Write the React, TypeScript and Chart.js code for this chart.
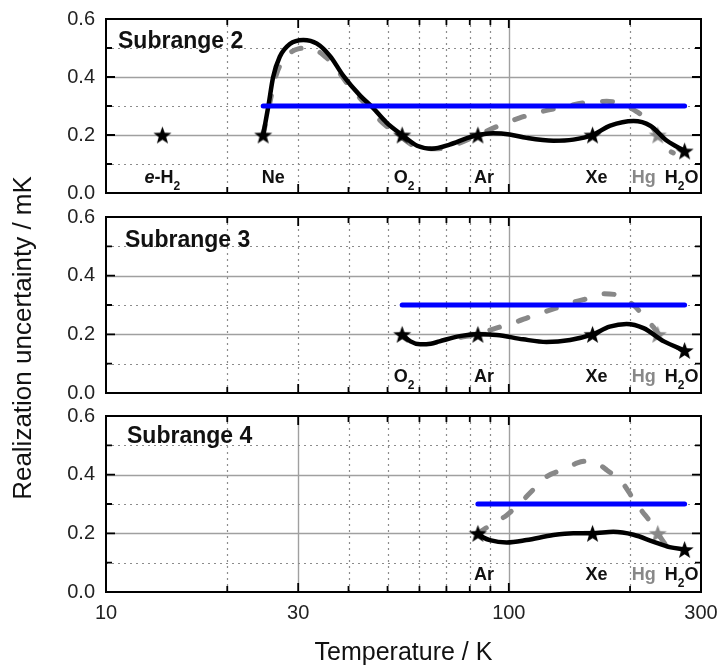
import React, { useEffect, useRef } from 'react';
import { Chart, registerables } from 'chart.js';

Chart.register(...registerables);

// ---------- data ----------
const fixedPointNames = ['e-H2', 'Ne', 'O2', 'Ar', 'Xe', 'Hg', 'H2O'];
const fixedPointTemps = [13.8033, 24.5561, 54.3584, 83.8058, 161.4056, 234.3156, 273.16];
const fixedPointUnc = [0.2, 0.2, 0.2, 0.2, 0.2, 0.2, 0.145];
const targetUnc = 0.3;

const xTickValues = [10, 30, 100, 300];
const xGridValues = [20, 30, 40, 50, 60, 70, 80, 90, 100, 200];
const yTickValues = [0, 0.2, 0.4, 0.6];
const yGridValues = [0.1, 0.2, 0.3, 0.4, 0.5];

// Subrange 2
const sub2SolidT = [24.56, 25.3, 26.0, 27.0, 28.6, 30.9, 33.4, 36.0, 38.8, 42.8, 45.7, 49.7, 54.36, 59.2, 64.4, 71.3, 78.7, 83.81, 91.4, 100.5, 110.6, 129, 144.6, 161.41, 178.5, 204, 224.5, 247, 273.16];
const sub2SolidV = [0.2, 0.3, 0.4, 0.47, 0.514, 0.528, 0.515, 0.472, 0.405, 0.335, 0.298, 0.243, 0.2, 0.163, 0.153, 0.167, 0.189, 0.2, 0.206, 0.202, 0.19, 0.18, 0.184, 0.2, 0.232, 0.248, 0.232, 0.18, 0.145];
const sub2DashT = [24.56, 25.5, 26.5, 28.0, 30.0, 32.0, 34.5, 37.0, 40.0, 43.5, 47.0, 50.5, 54.36, 58.0, 62.0, 67.0, 74.0, 83.81, 93.0, 106, 120, 135, 155, 175, 190, 208, 218, 234.32, 248, 256];
const sub2DashV = [0.2, 0.31, 0.41, 0.47, 0.497, 0.5, 0.478, 0.435, 0.372, 0.315, 0.262, 0.222, 0.19, 0.163, 0.153, 0.153, 0.168, 0.2, 0.228, 0.258, 0.28, 0.295, 0.312, 0.316, 0.308, 0.28, 0.258, 0.2, 0.15, 0.138];

// Subrange 3
const sub3SolidT = [54.36, 57.0, 60.2, 64.0, 67.3, 75.5, 83.81, 93.2, 108.5, 124, 142, 161.41, 178, 196, 216, 242.7, 273.16];
const sub3SolidV = [0.2, 0.176, 0.166, 0.168, 0.176, 0.194, 0.2, 0.198, 0.183, 0.174, 0.181, 0.2, 0.226, 0.235, 0.221, 0.176, 0.145];
const sub3DashT = [76, 83.81, 89.7, 95, 104, 113, 123, 134, 146, 159, 172, 186, 206, 216, 228, 238, 245, 252];
const sub3DashV = [0.19, 0.2, 0.214, 0.225, 0.242, 0.26, 0.277, 0.294, 0.311, 0.324, 0.338, 0.334, 0.294, 0.262, 0.226, 0.192, 0.172, 0.153];

// Subrange 4
const sub4SolidT = [83.81, 86.5, 89.7, 98.8, 110.6, 129, 144.6, 161.41, 181.7, 204, 228, 250.6, 273.16];
const sub4SolidV = [0.2, 0.186, 0.177, 0.169, 0.177, 0.194, 0.2, 0.2, 0.205, 0.195, 0.172, 0.153, 0.145];
const sub4DashT = [83.81, 90, 98.8, 105.5, 116, 124, 138, 148, 156, 166, 175, 192, 202, 213, 226, 234.32, 243, 251];
const sub4DashV = [0.2, 0.228, 0.262, 0.297, 0.354, 0.393, 0.42, 0.44, 0.446, 0.438, 0.416, 0.37, 0.325, 0.28, 0.234, 0.2, 0.168, 0.143];

const panelTitles = ['Subrange 2', 'Subrange 3', 'Subrange 4'];

// ---------- layout / style ----------
const W = 721;
const H = 666;
const FONT = "'Liberation Sans', Arial, Helvetica, sans-serif";
const GRAY = '#888888';

type Panel = {
  title: string;
  solidT: number[]; solidV: number[];
  dashT: number[]; dashV: number[];
  starStart: number; blueStart: number;
  solidGridX: number[];
  top: number; bottom: number;
  titleX: number; titleDy: number; labelDy: number;
  showX: boolean;
};

const panels: Panel[] = [
  { title: panelTitles[0], solidT: sub2SolidT, solidV: sub2SolidV, dashT: sub2DashT, dashV: sub2DashV, starStart: 0, blueStart: 1, solidGridX: [100], top: 19, bottom: 193, titleX: 118, titleDy: 29, labelDy: 10, showX: false },
  { title: panelTitles[1], solidT: sub3SolidT, solidV: sub3SolidV, dashT: sub3DashT, dashV: sub3DashV, starStart: 2, blueStart: 2, solidGridX: [100], top: 217, bottom: 393, titleX: 125, titleDy: 30, labelDy: 11, showX: false },
  { title: panelTitles[2], solidT: sub4SolidT, solidV: sub4SolidV, dashT: sub4DashT, dashV: sub4DashV, starStart: 3, blueStart: 3, solidGridX: [30, 100], top: 416, bottom: 592, titleX: 127, titleDy: 27, labelDy: 12, showX: true },
];

// label pieces: [text, kind]
const labelParts: Record<string, [string, string][]> = {
  'e-H2': [['e', 'italic'], ['-H', 'bold'], ['2', 'sub']],
  'Ne': [['Ne', 'bold']],
  'O2': [['O', 'bold'], ['2', 'sub']],
  'Ar': [['Ar', 'bold']],
  'Xe': [['Xe', 'bold']],
  'Hg': [['Hg', 'bold']],
  'H2O': [['H', 'bold'], ['2', 'sub'], ['O', 'bold']],
};
const labelDx = [0, 10, 2, 6, 4, -14, -3];

function makeStar(color: string, R = 9.5, r = 3.9): HTMLCanvasElement {
  const c = document.createElement('canvas');
  const s = Math.ceil(2 * R + 2);
  c.width = s;
  c.height = s;
  const ctx = c.getContext('2d')!;
  ctx.translate(s / 2, s / 2 + R * 0.095);
  ctx.beginPath();
  for (let i = 0; i < 10; i++) {
    const ang = -Math.PI / 2 + (i * Math.PI) / 5;
    const rad = i % 2 === 0 ? R : r;
    const x = Math.cos(ang) * rad;
    const y = Math.sin(ang) * rad;
    if (i === 0) ctx.moveTo(x, y);
    else ctx.lineTo(x, y);
  }
  ctx.closePath();
  ctx.fillStyle = color;
  ctx.fill();
  return c;
}

function partFont(kind: string) {
  if (kind === 'sub') return `bold 12px ${FONT}`;
  if (kind === 'italic') return `italic bold 18px ${FONT}`;
  return `bold 18px ${FONT}`;
}

function decorPlugin(p: Panel) {
  return {
    id: 'panelDecor',
    beforeDatasetsDraw(chart: any) {
      const { ctx, chartArea: a, scales } = chart;
      const xs = scales.x;
      const ys = scales.y;
      ctx.save();
      for (const v of xGridValues) {
        const px = Math.round(xs.getPixelForValue(v)) + 0.5;
        const solid = p.solidGridX.includes(v);
        ctx.beginPath();
        ctx.setLineDash(solid ? [] : [2, 4]);
        ctx.strokeStyle = solid ? '#a0a0a0' : '#8c8c8c';
        ctx.lineWidth = solid ? 1.4 : 1.2;
        ctx.moveTo(px, a.top);
        ctx.lineTo(px, a.bottom);
        ctx.stroke();
      }
      for (const v of yGridValues) {
        const py = Math.round(ys.getPixelForValue(v)) + 0.5;
        const solid = yTickValues.includes(v);
        ctx.beginPath();
        ctx.setLineDash(solid ? [] : [2, 4]);
        ctx.strokeStyle = solid ? '#a0a0a0' : '#8c8c8c';
        ctx.lineWidth = solid ? 1.4 : 1.2;
        ctx.moveTo(a.left, py);
        ctx.lineTo(a.right, py);
        ctx.stroke();
      }
      ctx.restore();
    },
    afterDatasetsDraw(chart: any) {
      const { ctx, chartArea: a, scales } = chart;
      const xs = scales.x;
      const ys = scales.y;
      ctx.save();
      ctx.setLineDash([]);
      ctx.strokeStyle = '#000';
      ctx.lineWidth = 1.8;
      // tick marks
      for (const v of xGridValues) {
        const px = xs.getPixelForValue(v);
        const len = xTickValues.includes(v) ? 9 : 6;
        ctx.beginPath();
        ctx.moveTo(px, a.top);
        ctx.lineTo(px, a.top + len);
        ctx.moveTo(px, a.bottom);
        ctx.lineTo(px, a.bottom - len);
        ctx.stroke();
      }
      for (const v of yGridValues) {
        const py = ys.getPixelForValue(v);
        const len = yTickValues.includes(v) ? 9 : 6;
        ctx.beginPath();
        ctx.moveTo(a.left, py);
        ctx.lineTo(a.left + len, py);
        ctx.moveTo(a.right, py);
        ctx.lineTo(a.right - len, py);
        ctx.stroke();
      }
      // frame
      ctx.lineWidth = 2;
      ctx.strokeRect(a.left, a.top, a.right - a.left, a.bottom - a.top);

      // fixed-point labels
      ctx.textBaseline = 'alphabetic';
      ctx.textAlign = 'left';
      const base = a.bottom - p.labelDy;
      for (let i = p.starStart; i < fixedPointNames.length; i++) {
        const name = fixedPointNames[i];
        const parts = labelParts[name];
        let total = 0;
        for (const [t, k] of parts) {
          ctx.font = partFont(k);
          total += ctx.measureText(t).width;
        }
        let x = xs.getPixelForValue(fixedPointTemps[i]) + labelDx[i] - total / 2;
        ctx.fillStyle = name === 'Hg' ? GRAY : '#111';
        for (const [t, k] of parts) {
          ctx.font = partFont(k);
          ctx.fillText(t, x, k === 'sub' ? base + 7 : base);
          x += ctx.measureText(t).width;
        }
      }
      // subrange title
      ctx.font = `bold 23px ${FONT}`;
      ctx.fillStyle = '#111';
      ctx.fillText(p.title, p.titleX, a.top + p.titleDy);
      ctx.restore();
    },
    afterDraw(chart: any) {
      if (!p.showX) return;
      const { ctx, chartArea: a } = chart;
      ctx.save();
      ctx.fillStyle = '#111';
      ctx.textBaseline = 'alphabetic';
      ctx.textAlign = 'center';
      ctx.font = `25px ${FONT}`;
      ctx.fillText('Temperature / K', (a.left + a.right) / 2, 660);
      ctx.translate(31, 338);
      ctx.rotate(-Math.PI / 2);
      ctx.font = `26px ${FONT}`;
      ctx.fillText('Realization uncertainty / mK', 0, 0);
      ctx.restore();
    },
  };
}

function zip(t: number[], v: number[]) {
  return t.map((x, i) => ({ x, y: v[i] }));
}

function buildConfig(p: Panel, starBlack: HTMLCanvasElement, starGray: HTMLCanvasElement): any {
  const hgIdx = fixedPointNames.indexOf('Hg');
  const lastIdx = fixedPointNames.length - 1;
  const blackStars = fixedPointTemps
    .map((t, i) => ({ x: t, y: fixedPointUnc[i], i }))
    .filter((d) => d.i >= p.starStart && d.i !== hgIdx)
    .map((d) => ({ x: d.x, y: d.y }));
  const grayStars = [{ x: fixedPointTemps[hgIdx], y: fixedPointUnc[hgIdx] }];
  const blue = [
    { x: fixedPointTemps[p.blueStart], y: targetUnc },
    { x: fixedPointTemps[lastIdx], y: targetUnc },
  ];
  return {
    type: 'line',
    data: {
      datasets: [
        { label: 'fixed points', data: blackStars, showLine: false, pointStyle: starBlack, pointRadius: 8, order: 0 },
        { label: 'target', data: blue, borderColor: '#0000ff', borderWidth: 5, borderCapStyle: 'round', pointRadius: 0, order: 1 },
        { label: 'solid', data: zip(p.solidT, p.solidV), borderColor: '#000', borderWidth: 4.5, borderJoinStyle: 'round', borderCapStyle: 'round', pointRadius: 0, cubicInterpolationMode: 'monotone', order: 2 },
        { label: 'dashed', data: zip(p.dashT, p.dashV), borderColor: GRAY, borderWidth: 5, borderDash: [10, 20], borderCapStyle: 'round', borderJoinStyle: 'round', pointRadius: 0, cubicInterpolationMode: 'monotone', order: 3 },
        { label: 'Hg', data: grayStars, showLine: false, pointStyle: starGray, pointRadius: 8, order: 4 },
      ],
    },
    plugins: [decorPlugin(p)],
    options: {
      responsive: false,
      animation: false,
      events: [],
      layout: { padding: { left: 0, right: W - 701, top: p.top, bottom: p.showX ? 0 : H - p.bottom } },
      plugins: { legend: { display: false }, tooltip: { enabled: false }, title: { display: false } },
      scales: {
        x: {
          type: 'logarithmic',
          min: 10,
          max: 300,
          display: p.showX,
          grid: { display: false, drawTicks: false },
          border: { display: false },
          afterBuildTicks: (s: any) => { s.ticks = xTickValues.map((v) => ({ value: v })); },
          afterFit: (s: any) => {
            s.height = p.showX ? H - p.bottom : 0;
            s.paddingLeft = 0;
            s.paddingRight = 0;
            s.paddingTop = 0;
            s.paddingBottom = 0;
          },
          ticks: { autoSkip: false, maxRotation: 0, padding: 9, color: '#222', font: { size: 20, family: FONT }, callback: (v: any) => String(v) },
        },
        y: {
          type: 'linear',
          min: 0,
          max: 0.6,
          grid: { display: false, drawTicks: false },
          border: { display: false },
          afterBuildTicks: (s: any) => { s.ticks = yTickValues.map((v) => ({ value: v })); },
          afterFit: (s: any) => {
            s.width = 106;
            s.paddingTop = 0;
            s.paddingBottom = 0;
          },
          ticks: { padding: 11, color: '#222', font: { size: 20, family: FONT }, callback: (v: any) => Number(v).toFixed(1) },
        },
      },
    },
  };
}

export default function App() {
  const r0 = useRef<HTMLCanvasElement>(null);
  const r1 = useRef<HTMLCanvasElement>(null);
  const r2 = useRef<HTMLCanvasElement>(null);
  useEffect(() => {
    const starBlack = makeStar('#000');
    const starGray = makeStar(GRAY);
    const refs = [r0, r1, r2];
    const charts = panels.map((p, i) => new Chart(refs[i].current!, buildConfig(p, starBlack, starGray)));
    return () => charts.forEach((c) => c.destroy());
  }, []);
  const refs = [r0, r1, r2];
  return (
    <div style={{ position: 'absolute', left: 0, top: 0, width: W, height: H, background: '#fff', overflow: 'hidden' }}>
      {panels.map((p, i) => (
        <canvas key={p.title} ref={refs[i]} width={W} height={H} style={{ position: 'absolute', left: 0, top: 0 }} />
      ))}
    </div>
  );
}
